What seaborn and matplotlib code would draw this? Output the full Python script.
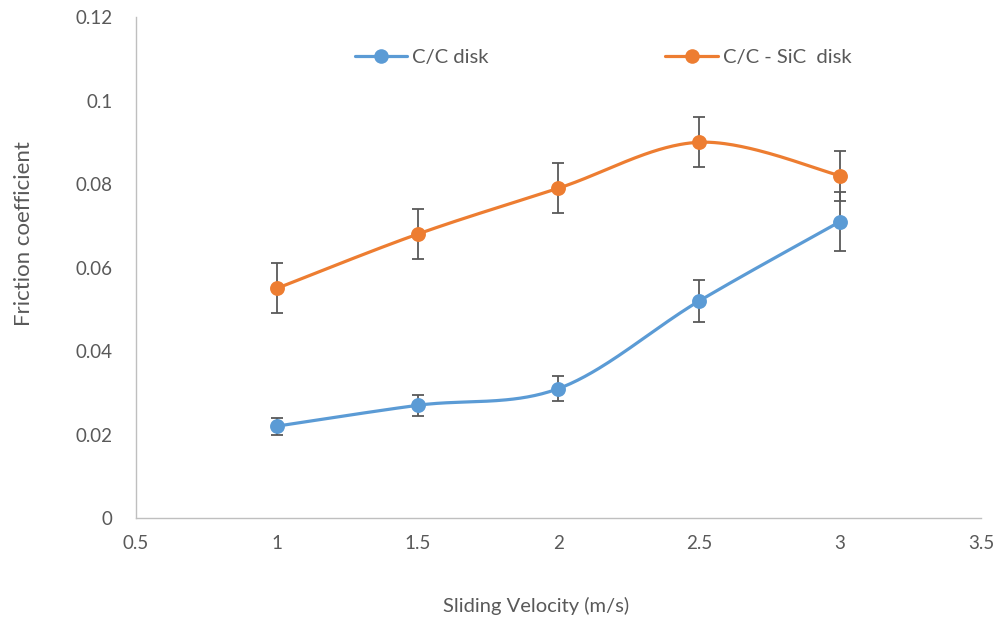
import numpy as np
import pandas as pd
import matplotlib
matplotlib.use("Agg")
import matplotlib.pyplot as plt
from matplotlib.lines import Line2D
import seaborn as sns

# Measured friction coefficients vs sliding velocity
velocity = [1.0, 1.5, 2.0, 2.5, 3.0]
cc_mean = [0.022, 0.027, 0.031, 0.052, 0.071]
cc_err = [0.002, 0.0025, 0.003, 0.005, 0.007]
ccsic_mean = [0.055, 0.068, 0.079, 0.090, 0.082]
ccsic_err = [0.006, 0.006, 0.006, 0.006, 0.006]

series_names = ["C/C disk", "C/C - SiC  disk"]
colors = ["#5B9BD5", "#ED7D31"]
x_ticks = [0.5, 1, 1.5, 2, 2.5, 3, 3.5]
y_ticks = [0, 0.02, 0.04, 0.06, 0.08, 0.1, 0.12]
x_tick_labels = ["0.5", "1", "1.5", "2", "2.5", "3", "3.5"]
y_tick_labels = ["0", "0.02", "0.04", "0.06", "0.08", "0.1", "0.12"]


def smooth_path(x, y, n=60):
    """Cubic Bezier smoothing through every point (spreadsheet-style smoothed line)."""
    p = np.column_stack([x, y]).astype(float)
    ext = np.vstack([p[0], p, p[-1]])
    out = []
    t = np.linspace(0, 1, n)[:, None]
    for i in range(len(p) - 1):
        p0, p1 = ext[i + 1], ext[i + 2]
        c1 = p0 + (ext[i + 2] - ext[i]) / 6.0
        c2 = p1 - (ext[i + 3] - ext[i + 1]) / 6.0
        seg = ((1 - t) ** 3) * p0 + 3 * ((1 - t) ** 2) * t * c1 \
            + 3 * (1 - t) * t ** 2 * c2 + t ** 3 * p1
        out.append(seg if i == 0 else seg[1:])
    s = np.vstack(out)
    return s[:, 0], s[:, 1]


sns.set_theme(style="white")
plt.rcParams["font.family"] = ["Lato", "DejaVu Sans"]

fig = plt.figure(figsize=(10.02, 6.23), dpi=100)
ax = fig.add_axes([0.1357, 0.1685, 0.979 - 0.1357, 0.9727 - 0.1685])

text_color = "#595959"
err_color = "#595959"

handles = []
for name, color, mean, err in zip(series_names, colors,
                                  [cc_mean, ccsic_mean], [cc_err, ccsic_err]):
    sx, sy = smooth_path(velocity, mean)
    curve = pd.DataFrame({"x": sx, "y": sy})
    sns.lineplot(data=curve, x="x", y="y", ax=ax, color=color, linewidth=2.3,
                 sort=False, estimator=None, zorder=2)
    ax.errorbar(velocity, mean, yerr=err, fmt="none", ecolor=err_color,
                elinewidth=1.3, capsize=4.5, capthick=1.3, zorder=3)
    pts = pd.DataFrame({"x": velocity, "y": mean})
    sns.scatterplot(data=pts, x="x", y="y", ax=ax, color=color, s=115,
                    edgecolor=color, linewidth=0, zorder=4)
    handles.append(Line2D([0], [0], color=color, linewidth=2.3, marker="o",
                          markersize=10.5, markeredgewidth=0, label=name))

ax.set_xlim(0.5, 3.5)
ax.set_ylim(0, 0.12)
ax.set_xticks(x_ticks)
ax.set_xticklabels(x_tick_labels)
ax.set_yticks(y_ticks)
ax.set_yticklabels(y_tick_labels)
ax.tick_params(axis="both", length=0, labelsize=13.5, colors=text_color)
ax.tick_params(axis="y", pad=17)
ax.tick_params(axis="x", pad=12)

for side in ["top", "right"]:
    ax.spines[side].set_visible(False)
for side in ["left", "bottom"]:
    ax.spines[side].set_color("#BFBFBF")
    ax.spines[side].set_linewidth(1.0)

ax.set_xlabel("Sliding Velocity (m/s)", fontsize=14.5, color=text_color)
ax.set_ylabel("Friction coefficient", fontsize=16, color=text_color)
ax.xaxis.set_label_coords(0.473, -0.157)
ax.yaxis.set_label_coords(-0.121, 0.567)

leg = ax.legend(handles=handles, loc="center", bbox_to_anchor=(0.602, 0.908),
                bbox_transform=fig.transFigure, ncol=2, frameon=False,
                fontsize=14.6, handlelength=2.6, handletextpad=0.25,
                columnspacing=8.7)
for t in leg.get_texts():
    t.set_color(text_color)

fig.savefig("out.png", dpi=100)
